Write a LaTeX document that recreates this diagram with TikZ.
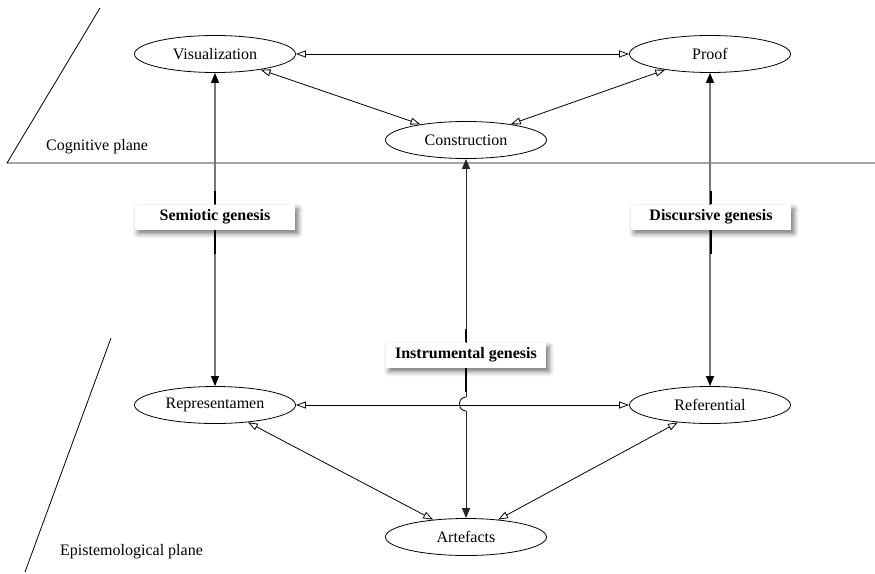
\documentclass[tikz,border=0pt]{standalone}
\usepackage{fontspec}
\setmainfont{Liberation Serif}
\usetikzlibrary{arrows.meta,shapes.geometric,shadows.blur}
\definecolor{linkgray}{HTML}{767676}
\tikzset{
  oval/.style={ellipse,draw,line width=0.8pt,minimum width=161pt,minimum height=37pt,inner sep=0pt,font=\fontsize{16}{18}\selectfont,fill=white},
  genbox/.style={rectangle,fill=white,minimum width=160pt,minimum height=25pt,inner sep=0pt,font=\bfseries\fontsize{16}{18}\selectfont,
    blur shadow={shadow xshift=3pt,shadow yshift=-4pt,shadow blur radius=5pt,shadow opacity=55}},
  planelabel/.style={font=\fontsize{16}{18}\selectfont,inner sep=0pt,anchor=west},
  openlink/.style={line width=0.8pt,{Triangle[open,length=10pt,width=7pt]}-{Triangle[open,length=10pt,width=7pt]}},
  graylink/.style={line width=1.3pt,draw=linkgray,{Triangle[length=10pt,width=8pt,color=black]}-{Triangle[length=10pt,width=8pt,color=black]}},
  darkend/.style={line width=1pt,draw=black!85,-{Triangle[length=10pt,width=8pt]}},
  thickseg/.style={line width=2.4pt,draw=black},
  planeline/.style={line width=0.8pt}
}
\begin{document}
\begin{tikzpicture}[x=1pt,y=-1pt]
\useasboundingbox (0,0) rectangle (875,573);
% planes
\coordinate (c1) at (100,8);
\coordinate (c2) at (7,163);
\coordinate (c3) at (875,163);
\draw[planeline] (c1) -- (c2) -- (c3);
\node[planelabel] (cogl) at (46,147) {Cognitive plane};
\coordinate (e1) at (111,338);
\coordinate (e2) at (25,572);
\draw[planeline] (e1) -- (e2);
\node[planelabel] (epil) at (60,552) {Epistemological plane};
% nodes
\node[oval] (vis) at (215,54) {Visualization};
\node[oval] (proof) at (710,54) {Proof};
\node[oval] (con) at (466,140) {Construction};
\node[oval] (rep) at (215,405) {Representamen};
\node[oval] (ref) at (710,405) {Referential};
\node[oval] (art) at (466,537) {Artefacts};
% cognitive links
\draw[openlink] (vis) -- (proof);
\draw[openlink] (vis) -- (con);
\draw[openlink] (proof) -- (con);
% epistemological links
\draw[openlink] (rep) -- (ref);
\draw[openlink] (rep) -- (art);
\draw[openlink] (ref) -- (art);
% geneses
\draw[graylink] (vis) -- (rep);
\draw[graylink] (proof) -- (ref);
\coordinate (j1) at (466,397);
\coordinate (j2) at (466,411);
\draw[darkend] (j1) -- (con);
\draw[line width=1pt,draw=black!85] (j1) to[out=180,in=180,looseness=1.6] (j2);
\draw[darkend] (j2) -- (art);
\node[genbox] (sem) at (215,217) {Semiotic genesis};
\node[genbox] (dis) at (711,217) {Discursive genesis};
\node[genbox] (ins) at (466,355) {Instrumental genesis};
\draw[thickseg] (sem.north) -- ++(0,-13);
\draw[thickseg] (sem.south) -- ++(0,24);
\draw[thickseg] (dis.north) -- ++(0,-13);
\draw[thickseg] (dis.south) -- ++(0,24);
\draw[thickseg] (ins.north) -- ++(0,-13);
\draw[thickseg] (ins.south) -- ++(0,24);
\end{tikzpicture}
\end{document}
